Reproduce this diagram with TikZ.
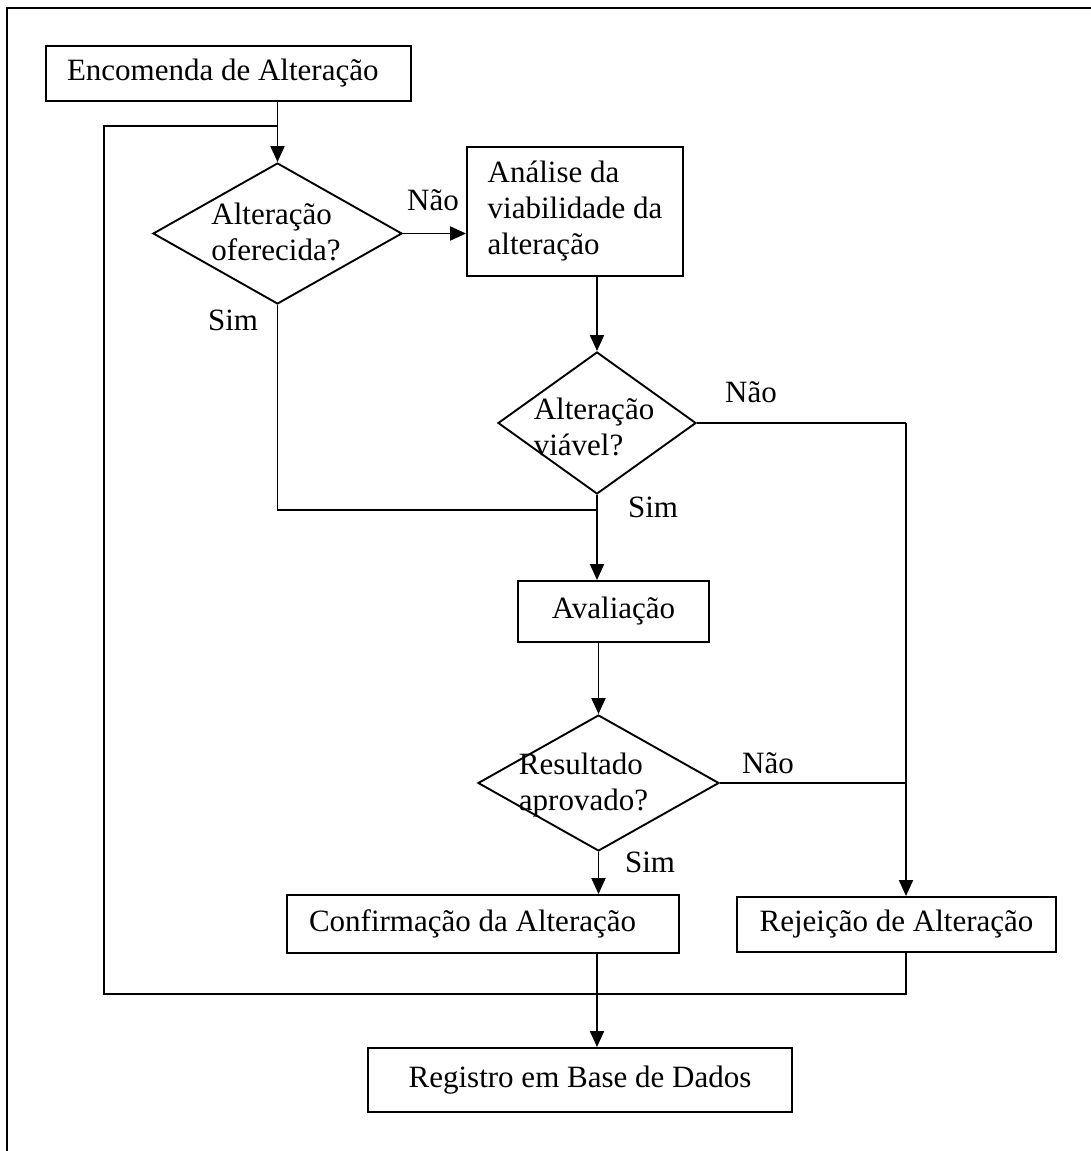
\documentclass[tikz,border=0pt]{standalone}
\usepackage{fontspec}
\setmainfont{Liberation Serif}
\usetikzlibrary{shapes.geometric,arrows.meta}
\begin{document}
\begin{tikzpicture}[x=1pt,y=-1pt,
  every node/.style={font=\fontsize{31}{36}\selectfont},
  flow/.style={line width=1.9pt},
  arr/.style={flow,-{Triangle[length=16pt,width=14pt]}},
  procbox/.style={draw,line width=1.9pt,align=center,inner sep=0pt},
  decision/.style={draw,diamond,line width=1.9pt,inner sep=0pt}]
\useasboundingbox (0,0) rectangle (1090,1151);
% page frame
\draw[line width=2pt] (7,1160) -- (7,8) -- (1100,8);

% process boxes
\node[procbox,minimum width=365pt,minimum height=55pt] (order) at (228.5,73.5) {\makebox[323pt][l]{Encomenda de Alteração}};
\node[procbox,align=left,minimum width=216pt,minimum height=129pt] (feas) at (575,211.5) {Análise da\\viabilidade da\\alteração};
\node[procbox,minimum width=191pt,minimum height=61pt] (eval) at (613.5,611.5) {Avaliação};
\node[procbox,minimum width=392pt,minimum height=58pt] (confirm) at (483,924) {\makebox[348pt][l]{Confirmação da Alteração}};
\node[procbox,minimum width=319pt,minimum height=55pt] (reject) at (896.5,924.5) {Rejeição de Alteração};
\node[procbox,minimum width=424pt,minimum height=64pt] (registry) at (580,1080) {Registro em Base de Dados};

% decisions
\node[decision,minimum width=249pt,minimum height=141pt] (d1) at (277.5,233.5) {};
\node[decision,minimum width=198pt,minimum height=142pt] (d2) at (597,423) {};
\node[decision,minimum width=241pt,minimum height=136pt] (d3) at (598.5,783) {};
\node[align=left] (d1t) at (276,232) {Alteração\\oferecida?};
\node[align=left] (d2t) at (594,427) {Alteração\\viável?};
\node[align=left] (d3t) at (583.5,785) {Resultado\\aprovado?};

% branch labels
\node (no1) at (433,200) {Não};
\node (yes1) at (233,320) {Sim};
\node (no2) at (751,392) {Não};
\node (yes2) at (653,507) {Sim};
\node (no3) at (768,763) {Não};
\node (yes3) at (650,862) {Sim};

% routing points
\coordinate (nj) at (906,423);
\coordinate (merge) at (597,510);
\coordinate (cx) at (597,0);
\coordinate (loopbl) at (104,994);
\coordinate (looptl) at (104,126);
\coordinate (loopin) at (277.5,126);

% connectors
\draw[arr] (order.south -| d1.north) -- (d1.north);
\draw[arr] (d1.east) -- (d1.east -| feas.west);
\draw[arr] (feas.south -| d2.north) -- (d2.north);
\draw[flow] (d2.east) -- (nj);
\draw[arr] (nj) -- (nj |- reject.north);
\draw[flow] (d1.south) -- (d1.south |- merge) -- (merge);
\draw[arr] (d2.south) -- (d2.south |- eval.north);
\draw[arr] (eval.south -| d3.north) -- (d3.north);
\draw[flow] (d3.east) -- (d3.east -| nj);
\draw[arr] (d3.south) -- (d3.south |- confirm.north);
\draw[arr] (confirm.south -| cx) -- (registry.north -| cx);
\draw[flow] (reject.south -| nj) -- (nj |- loopbl) -- (loopbl) -- (looptl) -- (loopin);
\end{tikzpicture}
\end{document}
